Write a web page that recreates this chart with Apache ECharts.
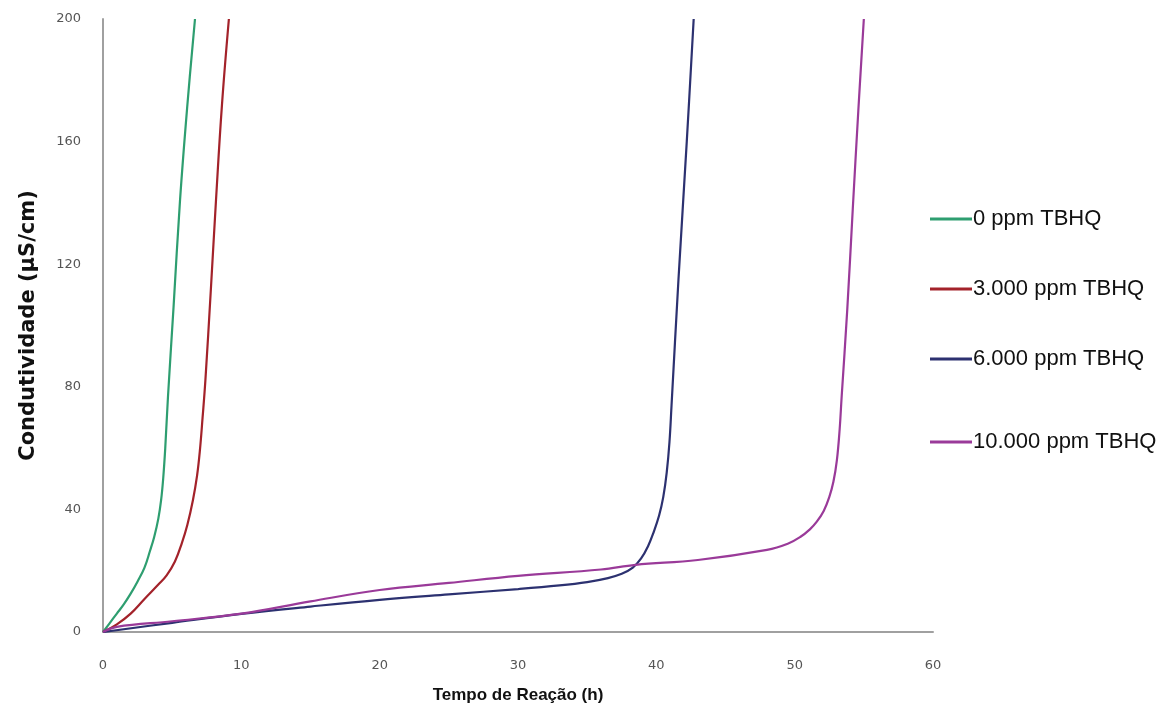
<!DOCTYPE html>
<html>
<head>
<meta charset="utf-8">
<script src="https://cdn.jsdelivr.net/npm/echarts@6/dist/echarts.min.js"></script>
<style>
	html,body{margin:0;padding:0;background:#fff;}
	#chart{width:1169px;height:713px;}
</style>
</head>
<body>
<div id="chart"></div>
<script>
// valores: [tempo (h), condutividade (µS/cm)]
var names = ['0 ppm TBHQ', '3.000 ppm TBHQ', '6.000 ppm TBHQ', '10.000 ppm TBHQ'];
var colors = ['#2E9E70', '#A3222A', '#2C3170', '#9A3A99'];
var xTicks = [0, 10, 20, 30, 40, 50, 60];
var yTicks = [0, 40, 80, 120, 160, 200];

var tbhq0 = [[0,0],[0.5,3],[1,6],[1.5,9],[2,12.5],[2.5,16.5],[3,21],[3.4,26.5],[3.7,31],[4.0,37],[4.2,43],[4.35,50],[4.5,60],[4.7,77],[5.1,106],[5.57,141],[6.1,172],[6.65,200]];
var tbhq3000 = [[0,0],[1,2.5],[2,6],[3,10.8],[4,15.5],[4.6,18.5],[5.2,23],[5.7,29],[6.1,35],[6.5,43],[6.8,51],[7.0,59],[7.2,70],[7.4,82],[7.8,112],[8.17,141],[8.6,172],[9.1,200]];
var tbhq6000 = [[0,0],[5,3],[10,5.9],[15,8.3],[20,10.5],[25,12.3],[30,14],[33,15.2],[35,16.3],[36.5,17.6],[37.5,19],[38.3,21],[38.9,24],[39.4,28],[39.8,32.5],[40.2,38],[40.5,44],[40.75,52],[40.95,62],[41.1,74],[41.6,115],[42.2,160],[42.7,200]];
var tbhq10000 = [[0,0],[1,1.7],[5,3.5],[10,6],[15,10],[20,13.7],[25,16],[30,18.3],[36,20.4],[38.5,21.9],[43,23.5],[48,26.8],[49.5,28.8],[50.4,31],[51.1,33.5],[51.6,36],[52.1,39.5],[52.5,44],[52.8,49],[53.05,56],[53.25,66],[53.4,77],[53.8,105],[54.2,138],[54.6,170],[55.0,200]];
var seriesData = [tbhq0, tbhq3000, tbhq6000, tbhq10000];

var chart = echarts.init(document.getElementById('chart'), null, {renderer: 'canvas'});
var font = "'Liberation Sans',Arial,sans-serif";

var series = [];
for (var i = 0; i < names.length; i++) {
	series.push({
		name: names[i],
		type: 'line',
		data: seriesData[i],
		showSymbol: false,
		symbol: 'none',
		smooth: 0.4,
		lineStyle: {color: colors[i], width: 2.2},
		itemStyle: {color: colors[i]},
		z: 3 + i
	});
}

var legendBase = {
	orient: 'vertical',
	left: 925,
	icon: 'rect',
	itemWidth: 42,
	itemHeight: 3,
	itemGap: 48,
	textStyle: {fontFamily: font, fontSize: 22, color: '#111', padding: [0, 0, 0, -4]}
};

var option = {
	backgroundColor: '#fff',
	animation: false,
	grid: {left: 103, right: 236, top: 19, bottom: 81},
	legend: [
		echarts.util.extend({top: 203, data: names.slice(0, 3)}, legendBase),
		echarts.util.extend({top: 426, data: names.slice(3)}, legendBase)
	],
	xAxis: {
		type: 'value',
		min: 0, max: 60, interval: 10,
		name: 'Tempo de Reação (h)',
		nameLocation: 'middle',
		nameGap: 55,
		nameTextStyle: {fontFamily: font, fontSize: 17, fontWeight: 'bold', color: '#111'},
		axisLine: {show: true, lineStyle: {color: '#a0a0a0', width: 2}},
		axisTick: {show: false},
		splitLine: {show: false},
		axisLabel: {
			margin: 27, fontFamily: "'DejaVu Sans',Verdana,sans-serif", fontSize: 13, color: '#555',
			formatter: function (v) { return xTicks.indexOf(v) >= 0 ? String(v) : ''; }
		}
	},
	yAxis: {
		type: 'value',
		min: 0, max: 200, interval: 40,
		name: 'Condutividade (µS/cm)',
		nameLocation: 'middle',
		nameGap: 64,
		nameRotate: 90,
		nameTextStyle: {fontFamily: "'DejaVu Sans',Verdana,sans-serif", fontSize: 21, fontWeight: 'bold', color: '#111'},
		axisLine: {show: true, lineStyle: {color: '#a0a0a0', width: 2}},
		axisTick: {show: false},
		splitLine: {show: false},
		axisLabel: {
			margin: 22, fontFamily: "'DejaVu Sans',Verdana,sans-serif", fontSize: 13, color: '#555',
			formatter: function (v) { return yTicks.indexOf(v) >= 0 ? String(v) : ''; }
		}
	},
	series: series
};
chart.setOption(option);
</script>
</body>
</html>
